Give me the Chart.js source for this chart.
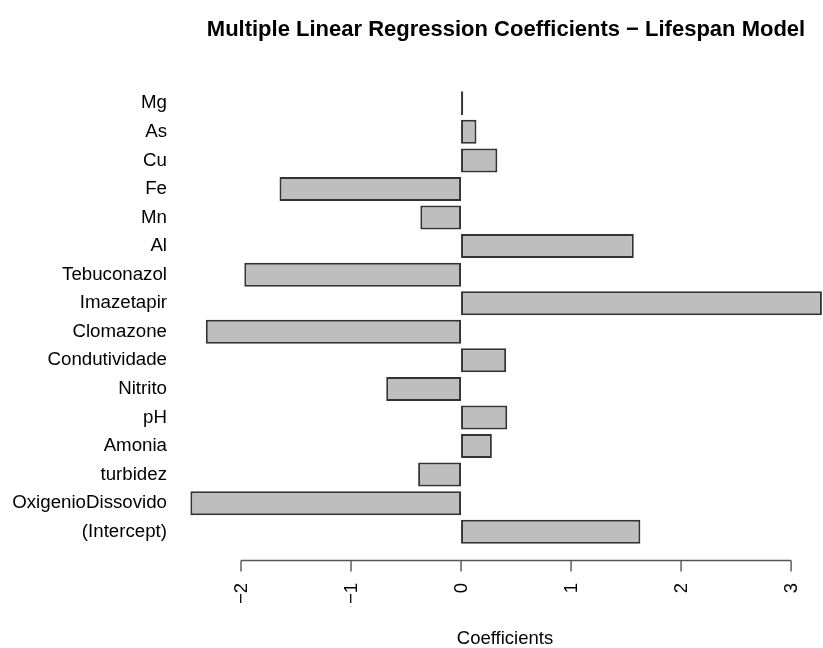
<!DOCTYPE html>
<html>
<head>
<meta charset="utf-8">
<script src="https://cdn.jsdelivr.net/npm/chart.js@4/dist/chart.umd.min.js"></script>
<style>
  html, body { margin: 0; padding: 0; background: #ffffff; }
  #wrap { width: 823px; height: 648px; position: relative; }
</style>
</head>
<body>
<div id="wrap"><canvas id="c" width="823" height="648"></canvas></div>
<script>
// ---- data ----
const categories = ["Mg", "As", "Cu", "Fe", "Mn", "Al", "Tebuconazol", "Imazetapir", "Clomazone",
  "Condutividade", "Nitrito", "pH", "Amonia", "turbidez", "OxigenioDissovido", "(Intercept)"];
const coefficients = [0.02, 0.14, 0.33, -1.65, -0.37, 1.57, -1.97, 3.28, -2.32,
  0.41, -0.68, 0.42, 0.28, -0.39, -2.46, 1.63];
const xTicks = [-2, -1, 0, 1, 2, 3];
const titleText = "Multiple Linear Regression Coefficients \u2212 Lifespan Model";
const xTitle = "Coefficients";

const FONT = "'Liberation Sans', Arial, Helvetica, sans-serif";

// custom R-style bottom axis and titles drawn from the chart's x scale
const rAxis = {
  id: 'rAxis',
  afterDraw(chart) {
    const ctx = chart.ctx;
    const xs = chart.scales.x;
    const axisY = 560.5;
    ctx.save();
    ctx.strokeStyle = '#555555';
    ctx.lineWidth = 1.4;
    const x0 = xs.getPixelForValue(xTicks[0]);
    const x1 = xs.getPixelForValue(xTicks[xTicks.length - 1]);
    ctx.beginPath();
    ctx.moveTo(x0, axisY);
    ctx.lineTo(x1, axisY);
    xTicks.forEach(v => {
      const px = xs.getPixelForValue(v);
      ctx.moveTo(px, axisY);
      ctx.lineTo(px, axisY + 11);
    });
    ctx.stroke();
    ctx.fillStyle = '#000000';
    ctx.font = "18.5px " + FONT;
    ctx.textAlign = 'right';
    ctx.textBaseline = 'middle';
    xTicks.forEach(v => {
      const px = xs.getPixelForValue(v);
      const label = v < 0 ? '\u2212' + Math.abs(v) : String(v);
      ctx.save();
      ctx.translate(px + 1, 583);
      ctx.rotate(-Math.PI / 2);
      ctx.fillText(label, 0, 0);
      ctx.restore();
    });
    // x axis title
    ctx.textAlign = 'center';
    ctx.textBaseline = 'alphabetic';
    ctx.fillText(xTitle, 505, 644);
    // main title
    ctx.font = "bold 22px " + FONT;
    ctx.fillText(titleText, 506, 36);
    ctx.restore();
  }
};

new Chart(document.getElementById('c'), {
  type: 'bar',
  data: {
    labels: categories,
    datasets: [{
      data: coefficients,
      backgroundColor: '#bebebe',
      borderColor: '#333333',
      borderWidth: 2,
      borderSkipped: false,
      barPercentage: 0.84,
      categoryPercentage: 1.0
    }]
  },
  options: {
    indexAxis: 'y',
    responsive: false,
    animation: false,
    devicePixelRatio: 1,
    layout: { padding: { top: 89, bottom: 102, left: 0, right: 0 } },
    plugins: {
      legend: { display: false },
      tooltip: { enabled: false },
      title: { display: false }
    },
    scales: {
      x: {
        display: false,
        min: -2.5,
        max: 3.29
      },
      y: {
        grid: { display: false, drawTicks: false },
        border: { display: false },
        afterFit(scale) { scale.width = 186; },
        ticks: {
          padding: 19,
          color: '#000000',
          font: { family: FONT, size: 18.7 }
        }
      }
    }
  },
  plugins: [rAxis]
});
</script>
</body>
</html>
